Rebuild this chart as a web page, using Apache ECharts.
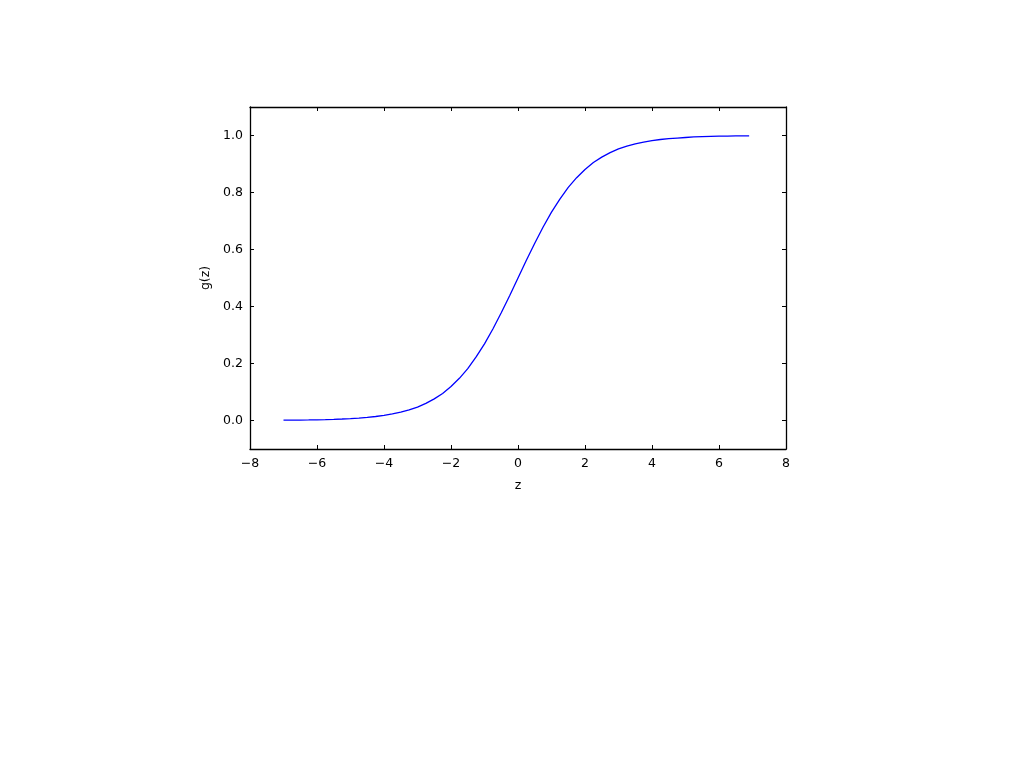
<!DOCTYPE html>
<html>
<head>
<meta charset="utf-8">
<script src="https://cdn.jsdelivr.net/npm/echarts@6/dist/echarts.min.js"></script>
<style>
html,body{margin:0;padding:0;background:#fff;}
#c{width:1024px;height:767px;}
</style>
</head>
<body>
<div id="c"></div>
<script>
var zValues = [-7, -6.75, -6.5, -6.25, -6, -5.75, -5.5, -5.25, -5, -4.75, -4.5, -4.25, -4, -3.75, -3.5, -3.25, -3, -2.75, -2.5, -2.25, -2, -1.75, -1.5, -1.25, -1, -0.75, -0.5, -0.25, 0, 0.25, 0.5, 0.75, 1, 1.25, 1.5, 1.75, 2, 2.25, 2.5, 2.75, 3, 3.25, 3.5, 3.75, 4, 4.25, 4.5, 4.75, 5, 5.25, 5.5, 5.75, 6, 6.25, 6.5, 6.75, 6.9];
var gValues = [0.001, 0.0012, 0.0015, 0.0019, 0.0025, 0.0032, 0.004, 0.0052, 0.0067, 0.0086, 0.011, 0.014, 0.018, 0.023, 0.029, 0.037, 0.047, 0.060, 0.076, 0.095, 0.119, 0.148, 0.182, 0.223, 0.269, 0.321, 0.378, 0.438, 0.5, 0.562, 0.622, 0.679, 0.731, 0.777, 0.818, 0.852, 0.881, 0.905, 0.924, 0.940, 0.953, 0.963, 0.971, 0.977, 0.982, 0.986, 0.989, 0.991, 0.993, 0.995, 0.996, 0.997, 0.9975, 0.998, 0.9985, 0.9988, 0.999];
var xTicks = [-8, -6, -4, -2, 0, 2, 4, 6, 8];
var yTicks = [0.0, 0.2, 0.4, 0.6, 0.8, 1.0];

var pts = zValues.map(function (z, i) { return [z, gValues[i]]; });
var font = 'DejaVu Sans';
var fmtX = function (v) { return v < 0 ? '\u2212' + Math.abs(v) : String(v); };
var fmtY = function (v) { return v.toFixed(1); };
var line = { show: true, onZero: false, lineStyle: { color: '#000', width: 1.3 } };
var tick = { show: true, inside: true, length: 4, lineStyle: { color: '#000', width: 1 } };

var chart = echarts.init(document.getElementById('c'), null, { renderer: 'canvas' });
chart.setOption({
  animation: false,
  backgroundColor: '#fff',
  grid: { left: 250, top: 107, width: 536, height: 342, containLabel: false },
  xAxis: [{
    type: 'value', min: -8, max: 8, interval: 2, position: 'bottom',
    name: 'z', nameLocation: 'middle', nameGap: 30,
    nameTextStyle: { fontFamily: font, fontSize: 12.5, color: '#000' },
    axisLine: line, axisTick: tick, splitLine: { show: false },
    axisLabel: { fontFamily: font, fontSize: 12.5, color: '#000', margin: 8, formatter: fmtX }
  }, {
    type: 'value', min: -8, max: 8, interval: 2, position: 'top',
    axisLine: line, axisTick: tick, splitLine: { show: false }, axisLabel: { show: false }
  }],
  yAxis: [{
    type: 'value', min: -0.1, max: 1.1, position: 'left',
    name: 'g(z)', nameLocation: 'middle', nameGap: 35, nameRotate: 90,
    nameTextStyle: { fontFamily: font, fontSize: 12.5, color: '#000' },
    axisLine: line,
    axisTick: Object.assign({ customValues: yTicks }, tick),
    splitLine: { show: false },
    axisLabel: { fontFamily: font, fontSize: 12.5, color: '#000', margin: 7, customValues: yTicks, formatter: fmtY }
  }, {
    type: 'value', min: -0.1, max: 1.1, position: 'right',
    axisLine: line,
    axisTick: Object.assign({ customValues: yTicks }, tick),
    splitLine: { show: false }, axisLabel: { show: false }
  }],
  series: [{
    type: 'line', data: pts, xAxisIndex: 0, yAxisIndex: 0,
    showSymbol: false, smooth: false,
    lineStyle: { color: '#0000ff', width: 1.3 }
  }]
});
</script>
</body>
</html>
